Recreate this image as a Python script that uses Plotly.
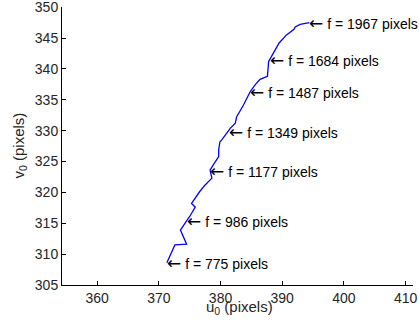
import plotly.graph_objects as go

u0 = [371.3, 372.6, 374.5, 373.5, 374.5, 375.0, 375.9, 375.3, 376.6, 377.5, 378.6, 378.3,
      378.8, 379.7, 379.7, 379.9, 380.2, 381.0, 381.6, 382.4, 382.6, 383.7, 384.8, 385.6,
      386.4, 387.6, 387.8, 388.7, 389.5, 390.7, 391.9, 392.1, 392.9, 394.4]
v0 = [308.6, 311.5, 311.6, 313.9, 315.4, 316.1, 317.6, 318.2, 320.1, 321.2, 322.3, 323.6,
      324.4, 325.8, 326.9, 328.2, 328.5, 329.6, 330.4, 331.2, 332.2, 334.1, 336.3, 337.4,
      338.3, 338.8, 341.2, 342.8, 344.2, 345.5, 346.4, 346.8, 347.2, 347.5]

label_f = [775, 986, 1177, 1349, 1487, 1684, 1967]
label_u = [371.3, 374.6, 378.3, 381.3, 384.8, 388.0, 394.4]
label_v = [308.6, 315.4, 323.5, 329.8, 336.3, 341.5, 347.5]

xticks = [360, 370, 380, 390, 400, 410]
yticks = [305, 310, 315, 320, 325, 330, 335, 340, 345, 350]

font = "Liberation Sans, Arial, Helvetica, sans-serif"

fig = go.Figure()
fig.add_trace(go.Scatter(x=u0, y=v0, mode="lines",
                         line=dict(color="#0000ff", width=1.3), showlegend=False))

for f, u, v in zip(label_f, label_u, label_v):
    fig.add_annotation(x=u, y=v,
                       text=f"<span style='font-family:DejaVu Sans;font-size:17px'>\u2190</span> f = {f} pixels",
                       showarrow=False, xanchor="left", yanchor="middle", xshift=-2,
                       font=dict(family=font, size=14, color="#000000"))

# axis titles
fig.add_annotation(x=0.505, y=0, xref="paper", yref="paper", xanchor="center", yanchor="top",
                   yshift=-11, text="u<sub>0</sub> (pixels)", showarrow=False,
                   font=dict(family=font, size=15, color="#262626"))
fig.add_annotation(x=0, y=0.5, xref="paper", yref="paper", xanchor="right", yanchor="middle",
                   xshift=-32, textangle=-90, text="v<sub>0</sub> (pixels)", showarrow=False,
                   font=dict(family=font, size=15, color="#262626"))

axis_common = dict(showline=True, linecolor="#000000", linewidth=1, ticks="inside",
                   ticklen=4, tickcolor="#000000", showgrid=False, zeroline=False,
                   ticklabeloverflow="allow",
                   tickfont=dict(family=font, size=14, color="#262626"), mirror=False)

fig.update_layout(
    width=419, height=323,
    margin=dict(l=62, r=6, t=7, b=38, autoexpand=False),
    paper_bgcolor="white", plot_bgcolor="white",
    xaxis=dict(range=[354.3, 411.2], tickvals=xticks, automargin=False, **axis_common),
    yaxis=dict(range=[305, 350.02], tickvals=yticks, automargin=False, **axis_common),
)

fig.write_html("out.html", config={"displayModeBar": False},
               post_script="document.body.style.margin='0';document.body.style.overflow='hidden';")
